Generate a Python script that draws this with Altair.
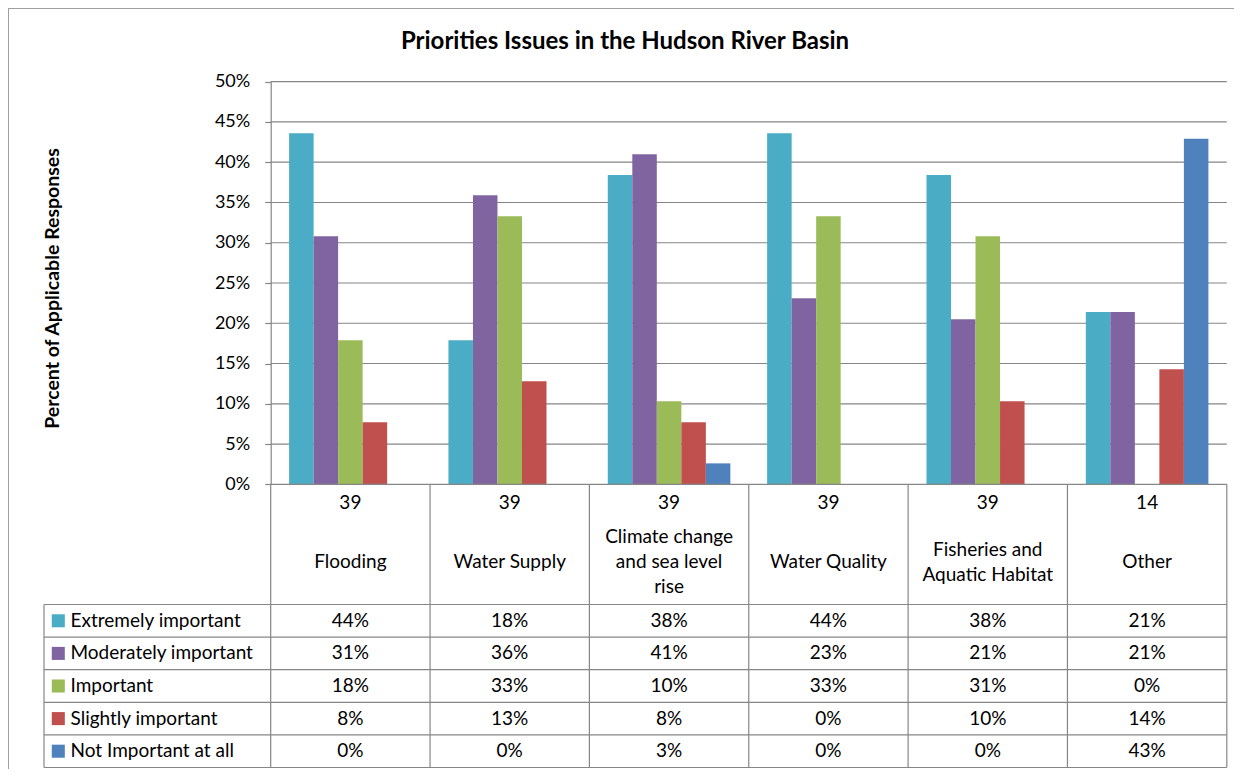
import altair as alt
import pandas as pd

# ---------------- data ----------------
categories = ["Flooding", "Water Supply", "Climate change\nand sea level\nrise",
              "Water Quality", "Fisheries and\nAquatic Habitat", "Other"]
counts = [39, 39, 39, 39, 39, 14]
series = ["Extremely important", "Moderately important", "Important",
          "Slightly important", "Not Important  at all"]
colors = ["#4BACC6", "#8064A2", "#9BBB59", "#C0504D", "#4F81BD"]
extremely = [43.6, 17.9, 38.4, 43.6, 38.4, 21.4]
moderately = [30.8, 35.9, 41.0, 23.1, 20.5, 21.4]
important = [17.9, 33.3, 10.3, 33.3, 30.8, 0.0]
slightly = [7.7, 12.8, 7.7, 0.0, 10.3, 14.3]
not_important = [0.0, 0.0, 2.6, 0.0, 0.0, 42.9]
y_ticks = [0, 5, 10, 15, 20, 25, 30, 35, 40, 45, 50]

title_text = "Priorities Issues in the Hudson River Basin"
y_title = "Percent of Applicable  Responses"

# ---------------- layout / style ----------------
W, H = 1226, 761
FONT = "Lato"
FS = 19
GRAY = "#868686"
PLOT_X0, PLOT_X1 = 262.7, 1218.8          # pixel span of the category columns
Y0_PX, Y50_PX = 476.3, 73.7               # pixel positions of 0% and 50%
ROW0_PX, ROW5_PX = 596.5, 759.5           # legend rows area of the data table
COUNT_PX, NAME_PX = 495.0, 554.0          # centres of the header texts
LINE_H = 25
LEG_LEFT_PX, LEG_SQ_PX, LEG_TXT_PX = 36.0, 50.3, 62.5

n_cat = len(categories)
n_ser = len(series)
col_w = (PLOT_X1 - PLOT_X0) / n_cat
row_h = (ROW5_PX - ROW0_PX) / n_ser


def col_units(px):
    return (px - PLOT_X0) / col_w


def row_units(px):
    return (px - ROW0_PX) / row_h


TABLE_TOP = row_units(Y0_PX)
LEG_LEFT = col_units(LEG_LEFT_PX)

XCOL = alt.Scale(domain=[0, n_cat], range=[PLOT_X0, PLOT_X1])
YPCT = alt.Scale(domain=[0, 50], range=[Y0_PX, Y50_PX])
YROW = alt.Scale(domain=[0, n_ser], range=[ROW0_PX, ROW5_PX])
COLOR = alt.Scale(domain=series, range=colors)

values = [extremely, moderately, important, slightly, not_important]
rows = []
for j, s in enumerate(series):
    for i, c in enumerate(categories):
        v = values[j][i]
        rows.append({"category": c, "series": s, "value": v,
                     "label": f"{int(v + 0.5)}%",
                     "col": i + 0.5, "row": j + 0.5})
df = pd.DataFrame(rows)

cat_df = pd.DataFrame({
    "category": categories,
    "count": [str(c) for c in counts],
    "col": [i + 0.5 for i in range(n_cat)],
    "count_row": row_units(COUNT_PX),
    "name_row": [row_units(NAME_PX - (c.count("\n")) * LINE_H / 2) for c in categories],
})
leg_df = pd.DataFrame({"series": series, "row": [j + 0.5 for j in range(n_ser)],
                       "xsq": col_units(LEG_SQ_PX), "xtxt": col_units(LEG_TXT_PX)})
grid_df = pd.DataFrame({"v": y_ticks[1:], "x1": 0, "x2": n_cat})

vlines = [{"x": k, "y1": TABLE_TOP, "y2": n_ser} for k in range(n_cat + 1)]
vlines.append({"x": LEG_LEFT, "y1": 0, "y2": n_ser})
vdf = pd.DataFrame(vlines)
hlines = [{"x1": 0, "x2": n_cat, "y": TABLE_TOP}]
hlines += [{"x1": LEG_LEFT, "x2": n_cat, "y": r} for r in range(n_ser + 1)]
hdf = pd.DataFrame(hlines)

# chart-area frame (left and top edges; the others fall outside the picture)
frame_l = alt.Chart(pd.DataFrame({"k": [0]})).mark_rule(color="#a0a0a0").encode(
    x=alt.value(0.5), y=alt.value(0), y2=alt.value(H))
frame_t = alt.Chart(pd.DataFrame({"k": [0]})).mark_rule(color="#a0a0a0").encode(
    x=alt.value(0), x2=alt.value(W), y=alt.value(0.5))

grid = alt.Chart(grid_df).mark_rule(color=GRAY, strokeWidth=1.2).encode(
    x=alt.X("x1:Q", scale=XCOL, axis=None), x2="x2:Q",
    y=alt.Y("v:Q", scale=YPCT, axis=None))

bars = alt.Chart(df).mark_bar().encode(
    x=alt.X("category:N", sort=categories,
            scale=alt.Scale(range=[PLOT_X0, PLOT_X1], paddingInner=0, paddingOuter=0),
            axis=None),
    xOffset=alt.XOffset("series:N", sort=series,
                        scale=alt.Scale(paddingInner=0, paddingOuter=0.75)),
    y=alt.Y("value:Q", scale=YPCT,
            axis=alt.Axis(values=y_ticks, labelExpr="datum.value + '%'", grid=False,
                          offset=-PLOT_X0, domainColor=GRAY, domainWidth=1.2,
                          tickColor=GRAY, tickSize=6, tickWidth=1.2,
                          labelPadding=15, labelFont=FONT, labelFontSize=18,
                          labelColor="black",
                          title=y_title, titleFont=FONT, titleFontSize=19.5,
                          titleFontWeight="bold", titleColor="black",
                          titleX=-212, titleY=280, titleBaseline="alphabetic")),
    color=alt.Color("series:N", scale=COLOR, legend=None))

vrules = alt.Chart(vdf).mark_rule(color=GRAY, strokeWidth=1.2).encode(
    x=alt.X("x:Q", scale=XCOL, axis=None),
    y=alt.Y("y1:Q", scale=YROW, axis=None), y2="y2:Q")
hrules = alt.Chart(hdf).mark_rule(color=GRAY, strokeWidth=1.2).encode(
    x=alt.X("x1:Q", scale=XCOL, axis=None), x2="x2:Q",
    y=alt.Y("y:Q", scale=YROW, axis=None))

count_txt = alt.Chart(cat_df).mark_text(font=FONT, fontSize=FS, color="black",
                                        baseline="middle").encode(
    x=alt.X("col:Q", scale=XCOL, axis=None),
    y=alt.Y("count_row:Q", scale=YROW, axis=None), text="count:N")
name_txt = alt.Chart(cat_df).mark_text(font=FONT, fontSize=FS, color="black",
                                       baseline="middle", lineBreak="\n",
                                       lineHeight=LINE_H).encode(
    x=alt.X("col:Q", scale=XCOL, axis=None),
    y=alt.Y("name_row:Q", scale=YROW, axis=None), text="category:N")
val_txt = alt.Chart(df).mark_text(font=FONT, fontSize=FS, color="black",
                                  baseline="middle").encode(
    x=alt.X("col:Q", scale=XCOL, axis=None),
    y=alt.Y("row:Q", scale=YROW, axis=None), text="label:N")
leg_sq = alt.Chart(leg_df).mark_square(size=170, opacity=1).encode(
    x=alt.X("xsq:Q", scale=XCOL, axis=None),
    y=alt.Y("row:Q", scale=YROW, axis=None),
    color=alt.Color("series:N", scale=COLOR, legend=None))
leg_txt = alt.Chart(leg_df).mark_text(font=FONT, fontSize=FS, color="black",
                                      align="left", baseline="middle").encode(
    x=alt.X("xtxt:Q", scale=XCOL, axis=None),
    y=alt.Y("row:Q", scale=YROW, axis=None), text="series:N")

chart = alt.layer(frame_l, frame_t, grid, bars, vrules, hrules, count_txt, name_txt,
                  val_txt, leg_sq, leg_txt).resolve_scale(
    x="independent", y="independent"
).properties(
    width=W, height=H, padding=0, autosize="none",
    title=alt.TitleParams(title_text, font=FONT, fontSize=24, fontWeight="bold",
                          color="black", anchor="middle", baseline="alphabetic",
                          offset=-65, dx=4),
    background="white"
).configure_view(stroke=None)

chart.save("out.html", embed_options={"renderer": "svg", "actions": False})
